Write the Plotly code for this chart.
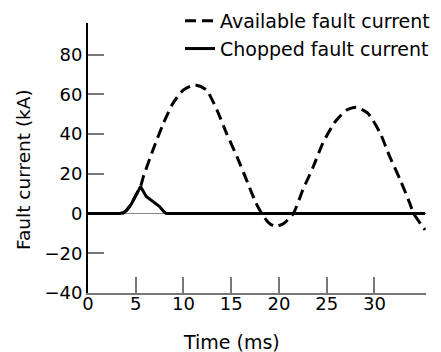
import plotly.graph_objects as go

# Available fault current (dashed)
t_avail = [0, 1.5, 2.5, 3.0, 3.3, 3.7, 4.0, 4.5, 4.9, 5.5, 5.8, 6.8, 7.9, 8.9, 10.0, 11.2, 12.4,
           13.5, 14.5, 15.6, 16.6, 17.6, 18.2, 18.9, 19.6, 20.5, 21.5, 22.5, 23.6, 24.6, 25.9,
           27.1, 28.1, 29.3, 30.6, 31.6, 32.7, 33.7, 34.1, 35.3]
i_avail = [0, 0, 0, 0, 0, 0.4, 1.5, 4.5, 8.2, 13.6, 18.6, 32, 45.5, 55.6, 62.3, 64.8, 62.3,
           52.2, 40.5, 28.7, 17, 5.2, 0, -4.5, -6.5, -5, 0, 11.9, 23.7, 35.5, 46.4,
           52.2, 53.6, 50.6, 40.5, 28.7, 17, 5.2, 0, -8.2]

# Chopped fault current (solid)
t_chop = [0, 3.3, 3.7, 4.0, 4.5, 4.9, 5.5, 6.1, 6.8, 7.5, 7.9, 8.2, 35.3]
i_chop = [0, 0, 0.4, 1.5, 4.5, 8.2, 13.6, 8.6, 6.0, 3.5, 1.2, 0, 0]

x_ticks = [0, 5, 10, 15, 20, 25, 30]
y_ticks = [-40, -20, 0, 20, 40, 60, 80]

FONT = "DejaVu Sans"

fig = go.Figure()
fig.add_trace(go.Scatter(x=t_avail, y=i_avail, mode="lines", name="Available fault current",
                         line=dict(color="black", width=3, dash="11px,6px", shape="spline", smoothing=0.6)))
fig.add_trace(go.Scatter(x=t_chop, y=i_chop, mode="lines", name="Chopped fault current",
                         line=dict(color="black", width=3)))

fig.update_layout(
    width=441, height=352, autosize=False,
    margin=dict(l=88, r=15, t=23, b=59, autoexpand=False),
    paper_bgcolor="white", plot_bgcolor="white",
    font=dict(family=FONT, size=18, color="black"),
    showlegend=True,
    legend=dict(x=(180 - 88) / 338, y=(293 - 2) / 270,
                xanchor="left", yanchor="top", bgcolor="rgba(0,0,0,0)",
                font=dict(family=FONT, size=19), tracegroupgap=0),
    xaxis=dict(range=[0, 35.4], tickvals=x_ticks, ticks="inside", ticklen=16, tickwidth=1.5,
               tickcolor="#777", showline=True, linecolor="#777", linewidth=2,
               showgrid=False, zeroline=False, tickfont=dict(size=18), ticklabelstandoff=-7,
               layer="below traces"),
    yaxis=dict(range=[-40, 96], tickvals=y_ticks, ticks="inside", ticklen=16, tickwidth=1.5,
               tickcolor="#777", showline=True, linecolor="black", linewidth=2,
               showgrid=False, zeroline=True, zerolinecolor="#888", zerolinewidth=1,
               tickfont=dict(size=18), layer="below traces"),
    annotations=[
        dict(text="Time (ms)", xref="paper", yref="paper", x=(231 - 88) / 338, y=(293 - 342) / 270,
             xanchor="center", yanchor="middle", showarrow=False, font=dict(size=19)),
        dict(text="Fault current (kA)", xref="paper", yref="paper", x=(23 - 88) / 338, y=(293 - 170) / 270,
             xanchor="center", yanchor="middle", textangle=-90, showarrow=False, font=dict(size=18.5)),
    ],
)

fig.write_html("out.html")
